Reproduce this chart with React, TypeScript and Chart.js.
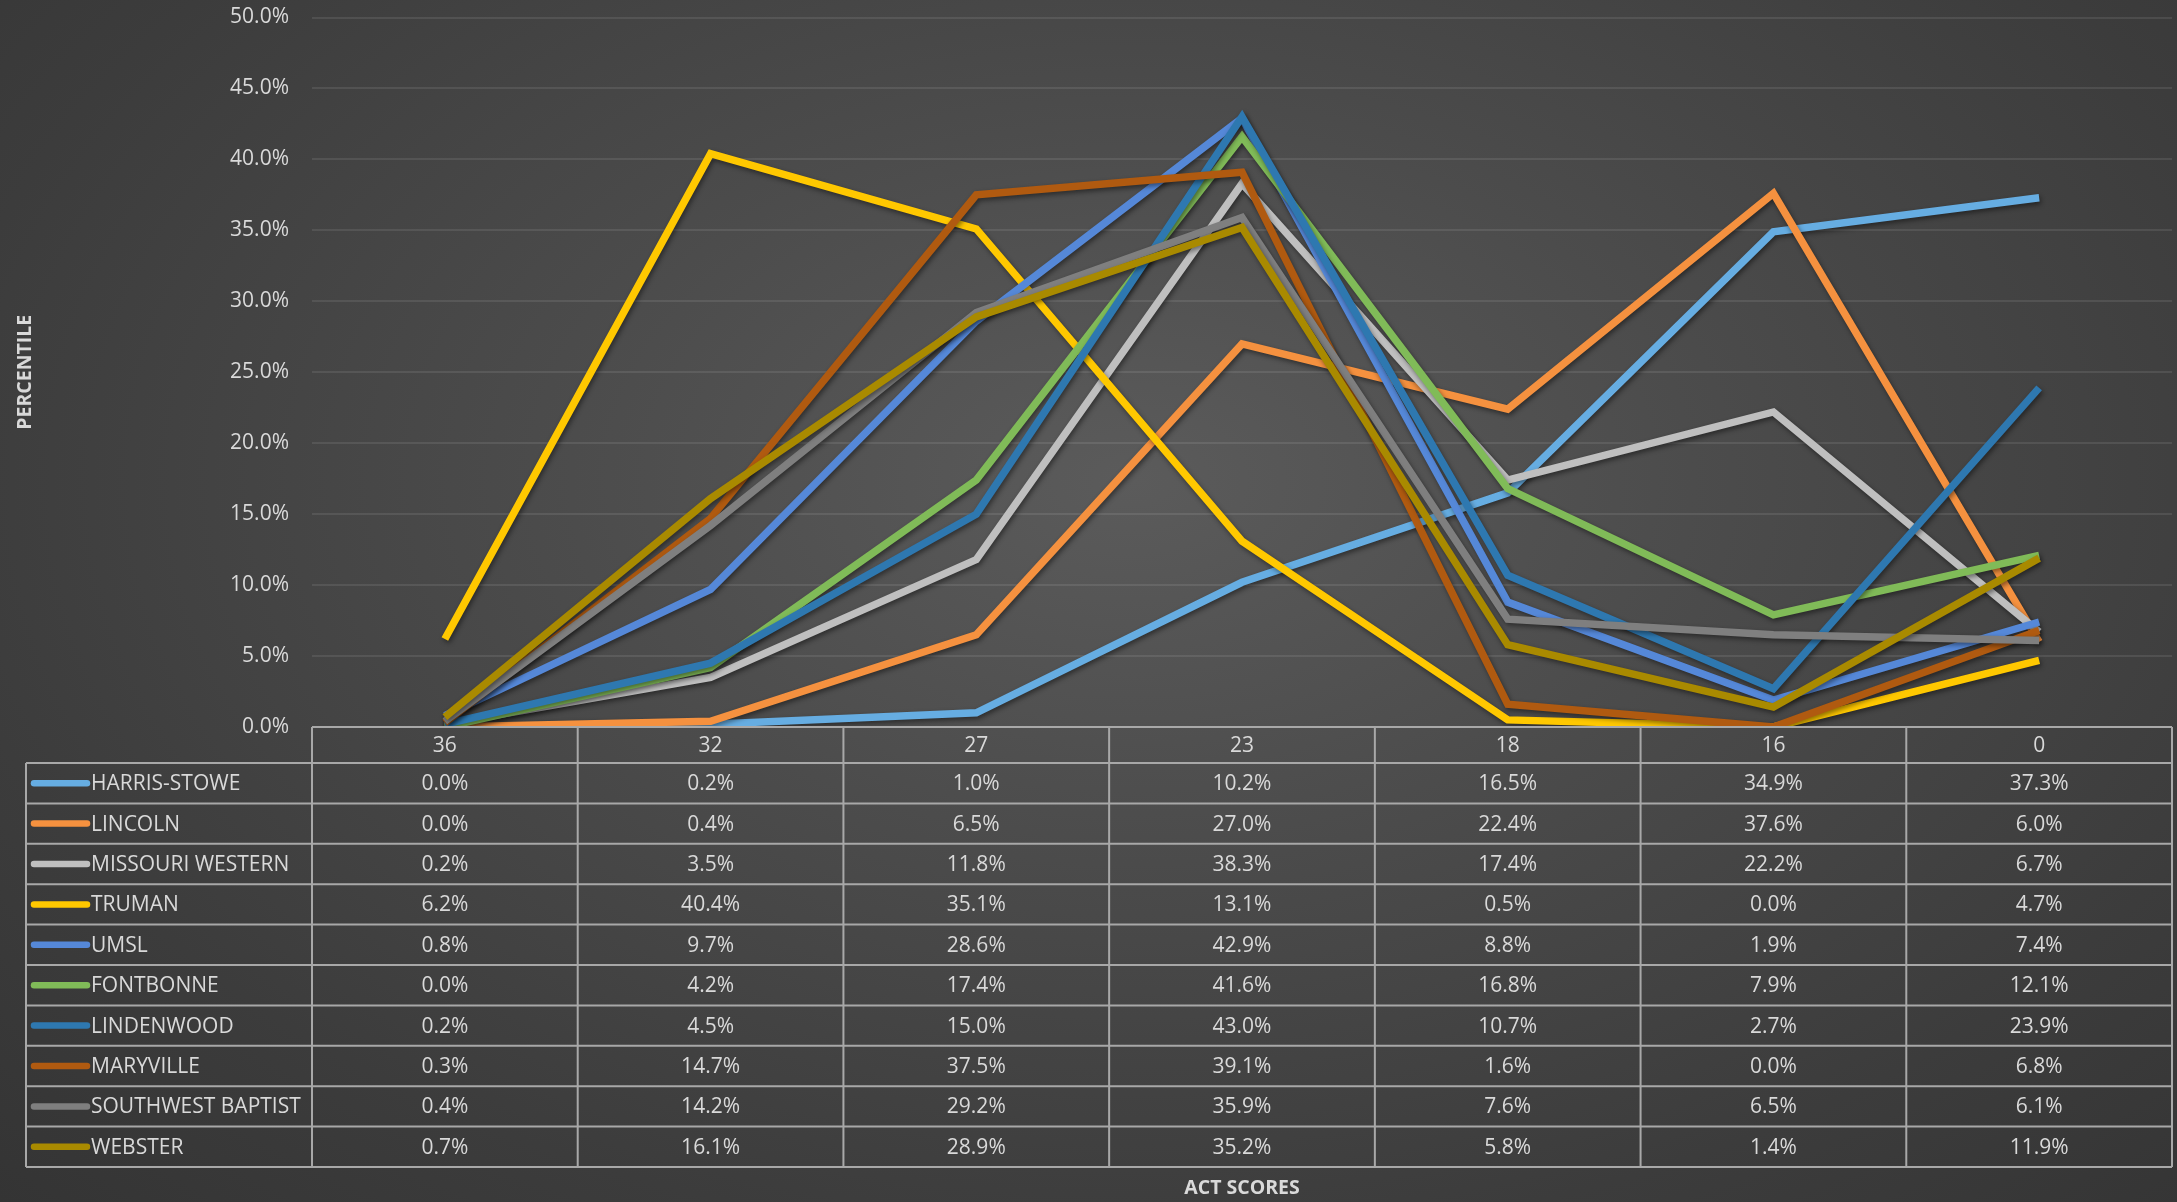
import React, { useEffect, useRef } from "react";
import { Chart, registerables } from "chart.js";

Chart.register(...registerables);

// ---- Data ----
const ACT_SCORES = ["36", "32", "27", "23", "18", "16", "0"];

const SCHOOLS = [
  "HARRIS-STOWE",
  "LINCOLN",
  "MISSOURI WESTERN",
  "TRUMAN",
  "UMSL",
  "FONTBONNE",
  "LINDENWOOD",
  "MARYVILLE",
  "SOUTHWEST BAPTIST",
  "WEBSTER",
];

const HARRIS_STOWE = [0.0, 0.2, 1.0, 10.2, 16.5, 34.9, 37.3];
const LINCOLN = [0.0, 0.4, 6.5, 27.0, 22.4, 37.6, 6.0];
const MISSOURI_WESTERN = [0.2, 3.5, 11.8, 38.3, 17.4, 22.2, 6.7];
const TRUMAN = [6.2, 40.4, 35.1, 13.1, 0.5, 0.0, 4.7];
const UMSL = [0.8, 9.7, 28.6, 42.9, 8.8, 1.9, 7.4];
const FONTBONNE = [0.0, 4.2, 17.4, 41.6, 16.8, 7.9, 12.1];
const LINDENWOOD = [0.2, 4.5, 15.0, 43.0, 10.7, 2.7, 23.9];
const MARYVILLE = [0.3, 14.7, 37.5, 39.1, 1.6, 0.0, 6.8];
const SOUTHWEST_BAPTIST = [0.4, 14.2, 29.2, 35.9, 7.6, 6.5, 6.1];
const WEBSTER = [0.7, 16.1, 28.9, 35.2, 5.8, 1.4, 11.9];

const SERIES_VALUES = [
  HARRIS_STOWE,
  LINCOLN,
  MISSOURI_WESTERN,
  TRUMAN,
  UMSL,
  FONTBONNE,
  LINDENWOOD,
  MARYVILLE,
  SOUTHWEST_BAPTIST,
  WEBSTER,
];

const SERIES_COLORS = [
  "#66ade2",
  "#f5913f",
  "#bfbfbf",
  "#ffc800",
  "#5588d8",
  "#80bb58",
  "#2e78b0",
  "#b05a10",
  "#7f7f7f",
  "#a98a00",
];

const Y_MIN = 0;
const Y_MAX = 50;
const Y_STEP = 5;

const TEXT_COLOR = "#d9d9d9";
const FONT_FAMILY = "'Open Sans', sans-serif";

const fmtPct = (v: number) => `${v.toFixed(1)}%`;

// ---- Plugins ----
const shadowPlugin = {
  id: "lineShadow",
  beforeDatasetDraw(chart: any) {
    const ctx = chart.ctx;
    ctx.save();
    ctx.shadowColor = "rgba(0,0,0,0.45)";
    ctx.shadowBlur = 5;
    ctx.shadowOffsetX = 1.5;
    ctx.shadowOffsetY = 2.5;
  },
  afterDatasetDraw(chart: any) {
    chart.ctx.restore();
  },
};

const tablePlugin = {
  id: "dataTable",
  afterDraw(chart: any) {
    const { ctx, chartArea } = chart;
    const xs = chart.scales.x;
    const n = ACT_SCORES.length;
    const p0 = xs.getPixelForTick(0);
    const p1 = xs.getPixelForTick(1);
    const half = (p1 - p0) / 2;
    const bounds: number[] = [];
    for (let i = 0; i < n; i++) bounds.push(xs.getPixelForTick(i) - half);
    bounds.push(xs.getPixelForTick(n - 1) + half);

    const tableLeft = 26;
    const headTop = chartArea.bottom;
    const headBottom = headTop + 36;
    const tableBottom = 1167;
    const rowH = (tableBottom - headBottom) / SCHOOLS.length;
    const right = bounds[bounds.length - 1];

    ctx.save();
    ctx.strokeStyle = "#a8a8a8";
    ctx.lineWidth = 2;
    ctx.beginPath();
    ctx.moveTo(bounds[0], headTop);
    ctx.lineTo(right, headTop);
    for (let r = 0; r <= SCHOOLS.length; r++) {
      const y = headBottom + r * rowH;
      ctx.moveTo(tableLeft, y);
      ctx.lineTo(right, y);
    }
    ctx.moveTo(tableLeft, headBottom);
    ctx.lineTo(tableLeft, tableBottom);
    for (const b of bounds) {
      ctx.moveTo(b, headTop);
      ctx.lineTo(b, tableBottom);
    }
    ctx.stroke();

    ctx.font = `21px ${FONT_FAMILY}`;
    ctx.fillStyle = TEXT_COLOR;
    ctx.textBaseline = "middle";
    SCHOOLS.forEach((name, r) => {
      const cy = headBottom + (r + 0.5) * rowH;
      ctx.save();
      ctx.strokeStyle = SERIES_COLORS[r];
      ctx.lineWidth = 6.5;
      ctx.lineCap = "round";
      ctx.beginPath();
      ctx.moveTo(34, cy);
      ctx.lineTo(87, cy);
      ctx.stroke();
      ctx.restore();
      ctx.textAlign = "left";
      ctx.fillText(name, 91, cy + 1);
      ctx.textAlign = "center";
      SERIES_VALUES[r].forEach((v, i) => {
        ctx.fillText(fmtPct(v), xs.getPixelForTick(i), cy + 1);
      });
    });
    ctx.restore();
  },
};

export default function App() {
  const canvasRef = useRef<HTMLCanvasElement | null>(null);

  useEffect(() => {
    if (!canvasRef.current) return;
    const datasets = SCHOOLS.map((name, i) => ({
      label: name,
      data: SERIES_VALUES[i],
      borderColor: SERIES_COLORS[i],
      backgroundColor: SERIES_COLORS[i],
      borderWidth: 7.5,
      pointRadius: 0,
      pointHoverRadius: 0,
      tension: 0,
      fill: false,
      order: SCHOOLS.length - i,
    }));

    const chart = new Chart(canvasRef.current, {
      type: "line",
      data: { labels: ACT_SCORES, datasets },
      options: {
        animation: false,
        responsive: false,
        layout: { padding: { top: 17.5, right: 5, bottom: 0, left: 0 } },
        plugins: {
          legend: { display: false },
          tooltip: { enabled: false },
        },
        scales: {
          x: {
            type: "category",
            offset: true,
            grid: { display: false, drawTicks: false },
            border: { display: false },
            ticks: {
              color: TEXT_COLOR,
              font: { family: FONT_FAMILY, size: 21 },
              padding: 6,
              maxRotation: 0,
              autoSkip: false,
            },
            title: {
              display: true,
              text: "ACT SCORES",
              color: TEXT_COLOR,
              font: { family: FONT_FAMILY, size: 19.5, weight: "bold" },
              padding: { top: 0, bottom: 2 },
            },
            afterFit(scale: any) {
              scale.height = 475;
              scale.paddingLeft = 0;
              scale.paddingRight = 0;
            },
          },
          y: {
            min: Y_MIN,
            max: Y_MAX,
            grid: {
              color: "rgba(255,255,255,0.09)",
              lineWidth: 2,
              drawTicks: false,
            },
            border: { display: false },
            ticks: {
              stepSize: Y_STEP,
              color: TEXT_COLOR,
              font: { family: FONT_FAMILY, size: 21 },
              padding: 23,
              callback: (v: any) => fmtPct(Number(v)),
            },
            title: {
              display: true,
              text: "PERCENTILE",
              color: TEXT_COLOR,
              font: { family: FONT_FAMILY, size: 19.5, weight: "bold" },
              padding: { top: 14, bottom: 0 },
            },
            afterFit(scale: any) {
              scale.width = 312;
              scale.paddingTop = 0;
              scale.paddingBottom = 0;
            },
          },
        },
      },
      plugins: [shadowPlugin, tablePlugin],
    } as any);

    return () => chart.destroy();
  }, []);

  return (
    <div
      style={{
        position: "fixed",
        left: 0,
        top: 0,
        width: 2177,
        height: 1202,
        background:
          "radial-gradient(ellipse farthest-corner at 52% 40%, #5b5b5b 0%, #4c4c4c 35%, #3c3c3c 75%, #343434 100%)",
      }}
    >
      <canvas
        ref={canvasRef}
        width={2177}
        height={1202}
        style={{ display: "block", width: 2177, height: 1202 }}
      />
    </div>
  );
}
